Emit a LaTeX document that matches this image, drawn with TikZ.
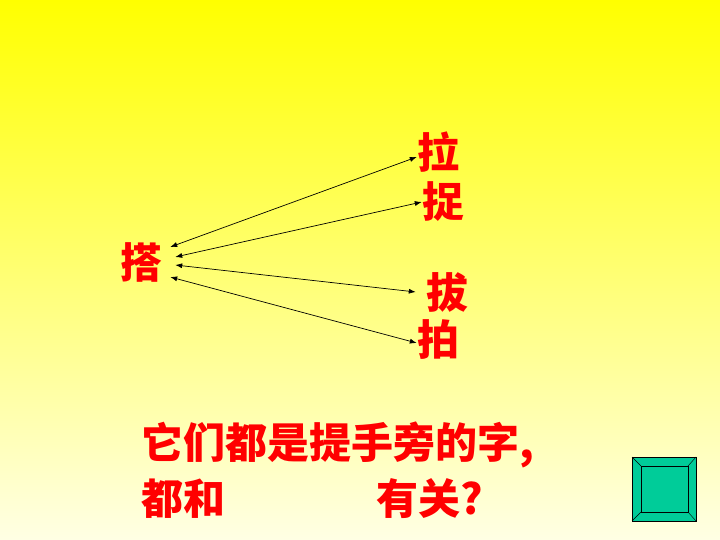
\documentclass[tikz,border=0pt]{standalone}
\usepackage{fontspec}
\newfontfamily\cjk{Noto Sans CJK SC}
\usetikzlibrary{arrows.meta}
\definecolor{btngreen}{RGB}{0,204,153}
\definecolor{paleyellow}{RGB}{255,255,228}
\tikzstyle{word} = [rectangle, inner sep=0pt, text=red, font=\cjk\bfseries\fontsize{42}{42}\selectfont]
\tikzstyle{arrow} = [{Latex[length=7pt,width=5pt]}-{Latex[length=7pt,width=5pt]}, line width=0.7pt]

\begin{document}
\begin{tikzpicture}[x=1pt,y=-1pt]
    \shade [top color=yellow, bottom color=paleyellow] (0,0) rectangle (720,540);
    \node (da) [word, inner xsep=8pt] at (141,262) {搭};
    \node (la) [word] at (438,152) {拉};
    \node (zhuo) [word] at (443,202) {捉};
    \node (ba) [word] at (447,292) {拔};
    \node (pai) [word] at (438,340) {拍};
    \draw [arrow] ([yshift=15pt]da.east) -- ([yshift=-5pt]la.west);
    \draw [arrow] ([xshift=5pt,yshift=5pt]da.east) -- (zhuo.west);
    \draw [arrow] ([xshift=5pt,yshift=-3pt]da.east) -- ([xshift=-10pt]ba.west);
    \draw [arrow] ([yshift=-15pt]da.east) -- ([yshift=-3pt]pai.west);
    \node (q1) [word, anchor=west] at (141,445) {它们都是提手旁的字,};
    \node (q2) [word, anchor=west] at (141,499) {都和};
    \node (q3) [word, anchor=west] at (376,499) {有关?};
    % button
    \draw [fill=btngreen, line width=1pt] (632,457) rectangle (696,521);
    \draw [line width=1pt] (641,466) rectangle (688,512);
    \draw (632,457) -- (641,466) (696,457) -- (688,466) (632,521) -- (641,512) (696,521) -- (688,512);
\end{tikzpicture}
\end{document}
